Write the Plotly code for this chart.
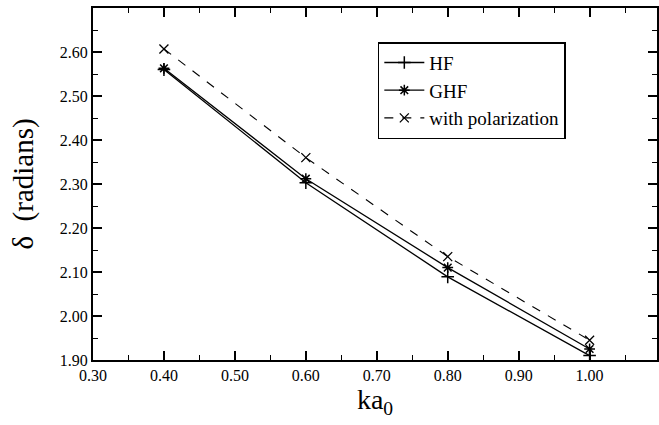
import plotly.graph_objects as go

ka0 = [0.40, 0.60, 0.80, 1.00]
hf = [2.560, 2.303, 2.089, 1.910]
ghf = [2.563, 2.312, 2.110, 1.925]
pol = [2.607, 2.360, 2.135, 1.945]

x_ticks = [0.30, 0.40, 0.50, 0.60, 0.70, 0.80, 0.90, 1.00]
x_tick_labels = ["0.30", "0.40", "0.50", "0.60", "0.70", "0.80", "0.90", "1.00"]
y_ticks = [1.90, 2.00, 2.10, 2.20, 2.30, 2.40, 2.50, 2.60]
y_tick_labels = ["1.90", "2.00", "2.10", "2.20", "2.30", "2.40", "2.50", "2.60"]

FONT = "Liberation Serif, Times New Roman, serif"

fig = go.Figure()
fig.add_trace(go.Scatter(x=ka0, y=hf, mode="lines+markers", name="HF",
                         line=dict(color="black", width=1.3),
                         marker=dict(symbol="cross-thin", size=9, color="black",
                                     line=dict(color="black", width=1.5))))
fig.add_trace(go.Scatter(x=ka0, y=ghf, mode="lines+markers", name="GHF",
                         line=dict(color="black", width=1.3),
                         marker=dict(symbol="asterisk", size=9, color="black",
                                     line=dict(color="black", width=1.5))))
fig.add_trace(go.Scatter(x=ka0, y=pol, mode="lines+markers", name="with polarization",
                         line=dict(color="black", width=1.1, dash="dash"),
                         marker=dict(symbol="x-thin", size=9, color="black",
                                     line=dict(color="black", width=1.3))))

axis_common = dict(showline=True, linecolor="black", linewidth=2, mirror="ticks",
                   ticks="inside", ticklen=9, tickwidth=1.5, tickcolor="black",
                   showgrid=False, zeroline=False,
                   tickfont=dict(family=FONT, size=16, color="black"))

fig.update_xaxes(range=[0.30, 1.095], tickvals=x_ticks, ticktext=x_tick_labels,
                 minor=dict(dtick=0.05, tick0=0.30, ticks="inside", ticklen=5, tickwidth=1.2,
                            tickcolor="black", showgrid=False),
                 title=dict(text="ka<sub>0</sub>", font=dict(family=FONT, size=28, color="black"),
                            standoff=4),
                 **axis_common)
fig.update_yaxes(range=[1.90, 2.70], tickvals=y_ticks, ticktext=y_tick_labels,
                 minor=dict(dtick=0.05, tick0=1.90, ticks="inside", ticklen=5, tickwidth=1.2,
                            tickcolor="black", showgrid=False),
                 title=dict(text="δ  (radians)", font=dict(family=FONT, size=29, color="black"),
                            standoff=18),
                 **axis_common)

fig.update_layout(width=659, height=425,
                  margin=dict(l=93, r=0, t=8, b=65),
                  paper_bgcolor="white", plot_bgcolor="white",
                  showlegend=True,
                  legend=dict(x=0.505, y=0.903, xanchor="left", yanchor="top",
                              bordercolor="black", borderwidth=1.5, bgcolor="white",
                              font=dict(family=FONT, size=19, color="black"),
                              tracegroupgap=0, itemwidth=40))

fig.write_html("out.html")
